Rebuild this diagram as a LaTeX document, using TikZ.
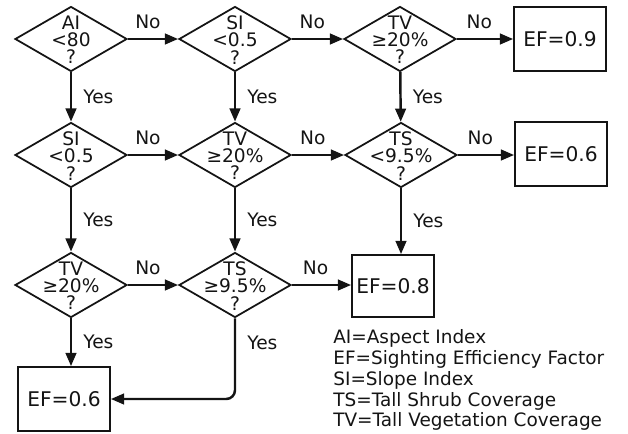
\documentclass[tikz,border=0pt]{standalone}
\usepackage{fontspec}
\setmainfont{DejaVu Sans}
\usetikzlibrary{shapes.geometric,arrows.meta}

\definecolor{ChartInk}{HTML}{141414}

\begin{document}
\begin{tikzpicture}[x=0.02cm,y=-0.02cm,
    decision/.style 2 args={diamond,draw=ChartInk,line width=1pt,
      minimum width=2.24cm,minimum height=1.3cm,inner sep=0pt,
      label={[text=ChartInk,align=center,inner sep=0pt,yshift=-0.5pt,
        font=\fontsize{10.6}{9.8}\selectfont]center:#1\\#2\\?}},
    result/.style={draw=ChartInk,line width=1pt,text=ChartInk,
      minimum width=1.84cm,minimum height=1.28cm,inner sep=0pt,
      font=\fontsize{11.5}{13}\selectfont},
    flow/.style={draw=ChartInk,line width=1.4pt,
      -{Triangle[length=7.5pt,width=6pt]}},
    nolabel/.style={above=2pt,pos=.4,text=ChartInk,font=\fontsize{10.6}{12}\selectfont},
    yeslabel/.style={right=3pt,text=ChartInk,font=\fontsize{10.6}{12}\selectfont}]
    \useasboundingbox (0,0) rectangle (628,433);
    \node[decision={AI}{<80}] (q1) at (71,39) {};
    \node[decision={SI}{<0.5}] (q2) at (235,39) {};
    \node[decision={TV}{≥20\%}] (q3) at (400,39) {};
    \node[result] (ef9) at (560,39) {EF=0.9};
    \node[decision={SI}{<0.5}] (q4) at (71,155) {};
    \node[decision={TV}{≥20\%}] (q5) at (235,155) {};
    \node[decision={TS}{<9.5\%}] (q6) at (401,155) {};
    \node[result] (ef6a) at (561,154) {EF=0.6};
    \node[decision={TV}{≥20\%}] (q7) at (71,285) {};
    \node[decision={TS}{≥9.5\%}] (q8) at (235,285) {};
    \node[result,minimum width=1.64cm,minimum height=1.24cm] (ef8) at (393,286) {EF=0.8};
    \node[result] (ef6b) at (64,399) {EF=0.6};
    \node[anchor=west,align=left,text=ChartInk,inner sep=0pt,
      font=\fontsize{10.5}{11.9}\selectfont] (legend) at (333,380)
      {AI=Aspect Index\\EF=Sighting Efficiency Factor\\SI=Slope Index\\
       TS=Tall Shrub Coverage\\TV=Tall Vegetation Coverage};
    \draw[flow] (q1) -- node[nolabel] {No} (q2);
    \draw[flow] (q2) -- node[nolabel] {No} (q3);
    \draw[flow] (q3) -- node[nolabel] {No} (ef9);
    \draw[flow] (q4) -- node[nolabel] {No} (q5);
    \draw[flow] (q5) -- node[nolabel] {No} (q6);
    \draw[flow] (q6.east) -- node[nolabel] {No} (q6.east -| ef6a.west);
    \draw[flow] (q7) -- node[nolabel] {No} (q8);
    \draw[flow] (q8.east) -- node[nolabel] {No} (q8.east -| ef8.west);
    \draw[flow] (q1) -- node[yeslabel] {Yes} (q4);
    \draw[flow] (q2) -- node[yeslabel] {Yes} (q5);
    \draw[flow] (q3) -- node[yeslabel] {Yes} (q6);
    \draw[flow] (q4) -- node[yeslabel] {Yes} (q7);
    \draw[flow] (q5) -- node[yeslabel] {Yes} (q8);
    \draw[flow] (q6.south) -- node[yeslabel] {Yes} (q6.south |- ef8.north);
    \draw[flow] (q7.south) -- node[yeslabel] {Yes} (q7.south |- ef6b.north);
    \draw[flow,rounded corners=5pt] (q8.south) |- node[yeslabel,pos=.15] {Yes} (ef6b.east);
\end{tikzpicture}
\end{document}
